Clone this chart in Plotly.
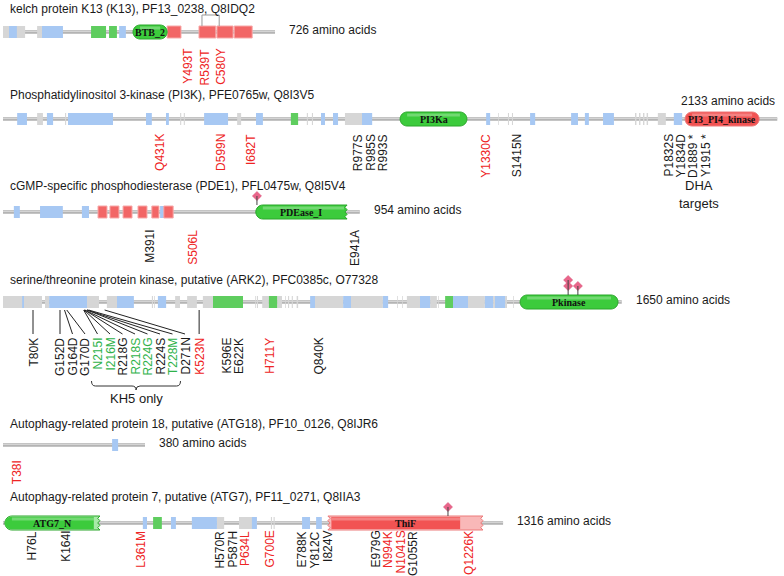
import re
import plotly.graph_objects as go

# ---------------------------------------------------------------- data
protein_titles = [
    "kelch protein K13 (K13), PF13_0238, Q8IDQ2",
    "Phosphatidylinositol 3-kinase (PI3K), PFE0765w, Q8I3V5",
    "cGMP-specific phosphodiesterase (PDE1), PFL0475w, Q8I5V4",
    "serine/threonine protein kinase, putative (ARK2), PFC0385c, O77328",
    "Autophagy-related protein 18, putative (ATG18), PF10_0126, Q8IJR6",
    "Autophagy-related protein 7, putative (ATG7), PF11_0271, Q8IIA3",
]
protein_lengths = [726, 2133, 954, 1650, 380, 1316]

# regions (start, end) in residues
k13_grey = [(0, 59), (91, 104)]
k13_blue = [(16, 37), (104, 160), (310, 328)]
k13_green = [(235, 275), (283, 304)]
k13_red = [(438, 475), (523, 568), (571, 614), (617, 665)]
k13_domains = [("BTB_2", 347, 438, "green", "round", "round", None)]
k13_links = [(531, 577)]
k13_mutations = ["Y493T", "R539T", "C580Y"]
k13_mut_colors = ["r", "r", "r"]
k13_sites = []

pi3k_grey = [(94, 110), (171, 174), (488, 491), (498, 501), (645, 656), (837, 840), (851, 854),
             (942, 992), (1364, 1366), (1391, 1394), (1402, 1405), (1741, 1745), (1752, 1756),
             (1763, 1767), (1773, 1777), (1804, 1826)]
pi3k_blue = [(39, 66), (121, 138), (179, 303), (394, 410), (449, 457), (554, 620), (697, 716),
             (876, 887), (909, 923), (989, 1017), (1331, 1342), (1452, 1466), (1565, 1584),
             (1603, 1614), (1653, 1683), (1848, 1871)]
pi3k_green = [(793, 813)]
pi3k_red = []
pi3k_domains = [("PI3Ka", 1094, 1278, "green", "round", "round", None),
                ("PI3_PI4_kinase", 1879, 2083, "red", "round", "round", None)]
pi3k_mutations = ["Q431K", "D599N", "I682T", "R977S", "R985S", "R993S", "Y1330C", "S1415N",
                  "P1832S", "Y1834D", "D1889", "Y1915"]
pi3k_mut_colors = ["r", "r", "r", "k", "k", "k", "r", "k", "k", "k", "k", "k"]
pi3k_dha_targets = ["D1889", "Y1915"]
pi3k_sites = []

pde1_grey = []
pde1_blue = [(29, 45), (99, 160), (211, 230), (420, 433)]
pde1_green = []
pde1_red = [(254, 278), (286, 310), (321, 345), (361, 385), (398, 417), (430, 455)]
pde1_domains = [("PDEase_I", 676, 920, "green", "round", "jag", None)]
pde1_mutations = ["M391I", "S506L", "E941A"]
pde1_mut_colors = ["k", "r", "k"]
pde1_sites = [(679, 1)]

ark2_grey = [(0, 104), (112, 123), (224, 256), (277, 304), (397, 400), (403, 405), (459, 472),
             (491, 517), (533, 560), (672, 674), (677, 680), (691, 693), (693, 709), (731, 744),
             (752, 754), (760, 763), (770, 773), (783, 787), (832, 907), (928, 1013), (1051, 1053),
             (1064, 1066), (1077, 1112), (1139, 1157), (1160, 1162), (1240, 1285), (1307, 1312),
             (1339, 1344), (1360, 1362)]
ark2_blue = [(51, 56), (123, 224), (304, 349), (413, 435), (819, 832), (907, 928), (1013, 1027),
             (1112, 1139), (1200, 1240), (1285, 1307), (1312, 1339)]
ark2_green = [(560, 640), (709, 731), (1179, 1200)]
ark2_red = []
ark2_domains = [("Pkinase", 1379, 1640, "green", "round", "round", None)]
ark2_mutations = ["T80K", "G152D", "G164D", "G170D", "N215I", "I216M", "R218G", "R218S", "R224G",
                  "R224S", "T228M", "D271N", "K523N", "K596E", "E622K", "H711Y", "Q840K"]
ark2_mut_colors = ["k", "k", "k", "k", "g", "g", "k", "g", "g", "k", "g", "k", "r", "k", "k", "r", "k"]
ark2_leader = [1, 1, 1, 1, 1, 1, 1, 1, 1, 1, 1, 1, 1, 0, 0, 0, 0]
ark2_sites = [(1507, 2), (1533, 1)]

atg18_grey = []
atg18_blue = [(292, 308)]
atg18_green = []
atg18_red = []
atg18_domains = []
atg18_mutations = ["T38I"]
atg18_mut_colors = ["r"]
atg18_sites = []

atg7_grey = [(563, 582), (621, 668), (705, 708), (712, 715)]
atg7_blue = [(368, 379), (442, 455), (497, 563), (655, 668), (787, 808), (824, 839)]
atg7_green = [(395, 418)]
atg7_red = []
atg7_domains = [("ATG7_N", 5, 255, "green", "round", "jag", 239),
                ("ThiF", 855, 1263, "red", "jag", "jag", 1203)]
atg7_mutations = ["H76L", "K164I", "L361M", "H570R", "P587H", "P634L", "G700E", "E788K", "Y812C",
                  "I824V", "E979G", "N994K", "N1041S", "G1055R", "Q1226K"]
atg7_mut_colors = ["k", "k", "r", "k", "k", "r", "r", "k", "k", "k", "k", "r", "r", "k", "r"]
atg7_sites = [(1171, 1)]

# ---------------------------------------------------------------- layout / style
W, H = 784, 576
X0_PX = 3
row_scale = [0.3747, 0.363, 0.374, 0.375, 0.3737, 0.38]   # px per residue for each row
row_line_y = [32, 119, 212, 302, 445, 523]
row_title_y = [9, 95, 186, 280, 424, 497]
row_label_top = [46, 132, 228, 336, 458, 529]
LABEL_GAP_PX = 12.5
FONT = "Liberation Sans"
TXT = "#1a1a1a"
MUT_COL = {"k": "#1a1a1a", "r": "#ee2424", "g": "#2fb24a"}
BLOCK_STYLE = {
    "grey": ("#d6d6d6", "rgba(0,0,0,0)"),
    "blue": ("#a7c8f3", "rgba(0,0,0,0)"),
    "green": ("#5fcd5f", "rgba(0,0,0,0)"),
    "red": ("#f26666", "#f7a9a9"),
}
DOM_STYLE = {
    "green": dict(fill="#3ccb3c", light="#a8eaa8", border="#2aa62a"),
    "red": dict(fill="#f25353", light="#f9b8b8", border="#ec7a7a"),
}

rows = [
    dict(grey=k13_grey, blue=k13_blue, green=k13_green, red=k13_red, domains=k13_domains,
         muts=k13_mutations, cols=k13_mut_colors, sites=k13_sites),
    dict(grey=pi3k_grey, blue=pi3k_blue, green=pi3k_green, red=pi3k_red, domains=pi3k_domains,
         muts=pi3k_mutations, cols=pi3k_mut_colors, sites=pi3k_sites),
    dict(grey=pde1_grey, blue=pde1_blue, green=pde1_green, red=pde1_red, domains=pde1_domains,
         muts=pde1_mutations, cols=pde1_mut_colors, sites=pde1_sites),
    dict(grey=ark2_grey, blue=ark2_blue, green=ark2_green, red=ark2_red, domains=ark2_domains,
         muts=ark2_mutations, cols=ark2_mut_colors, sites=ark2_sites),
    dict(grey=atg18_grey, blue=atg18_blue, green=atg18_green, red=atg18_red, domains=atg18_domains,
         muts=atg18_mutations, cols=atg18_mut_colors, sites=atg18_sites),
    dict(grey=atg7_grey, blue=atg7_blue, green=atg7_green, red=atg7_red, domains=atg7_domains,
         muts=atg7_mutations, cols=atg7_mut_colors, sites=atg7_sites),
]

fig = go.Figure()
shapes = []
annotations = []


def axname(i):
    return "x" if i == 0 else f"x{i + 1}"


def domain_path(x0, x1, yc, h, s, left, right):
    r = h / 2.0
    rx = r / s
    k = 0.5523
    yt, yb = yc - r, yc + r
    amp = 2.2 / s
    n = 6
    p = []
    p.append(f"M{x0 + rx:.2f},{yt:.2f}" if left == "round" else f"M{x0:.2f},{yt:.2f}")
    if right == "round":
        p.append(f"L{x1 - rx:.2f},{yt:.2f}")
        p.append(f"C{x1 - rx + k * rx:.2f},{yt:.2f} {x1:.2f},{yc - k * r:.2f} {x1:.2f},{yc:.2f}")
        p.append(f"C{x1:.2f},{yc + k * r:.2f} {x1 - rx + k * rx:.2f},{yb:.2f} {x1 - rx:.2f},{yb:.2f}")
    elif right == "jag":
        p.append(f"L{x1:.2f},{yt:.2f}")
        for j in range(1, n + 1):
            xx = x1 - amp if j % 2 else x1
            p.append(f"L{xx:.2f},{yt + h * j / n:.2f}")
    else:
        p.append(f"L{x1:.2f},{yt:.2f}")
        p.append(f"L{x1:.2f},{yb:.2f}")
    if left == "round":
        p.append(f"L{x0 + rx:.2f},{yb:.2f}")
        p.append(f"C{x0 + rx - k * rx:.2f},{yb:.2f} {x0:.2f},{yc + k * r:.2f} {x0:.2f},{yc:.2f}")
        p.append(f"C{x0:.2f},{yc - k * r:.2f} {x0 + rx - k * rx:.2f},{yt:.2f} {x0 + rx:.2f},{yt:.2f}")
    elif left == "jag":
        p.append(f"L{x0:.2f},{yb:.2f}")
        for j in range(1, n + 1):
            xx = x0 + amp if j % 2 else x0
            p.append(f"L{xx:.2f},{yb - h * j / n:.2f}")
    else:
        p.append(f"L{x0:.2f},{yb:.2f}")
    p.append("Z")
    return " ".join(p)


def residue(name):
    return int(re.search(r"\d+", name).group())


row_label_x = []
for i, row in enumerate(rows):
    s = row_scale[i]
    xa = axname(i)
    yc = row_line_y[i]
    L = protein_lengths[i]

    # protein backbone
    fig.add_trace(go.Scatter(x=[0, L], y=[yc, yc], xaxis=xa, yaxis="y", mode="lines",
                             line=dict(color="#b0b0b0", width=3.5), hoverinfo="skip",
                             showlegend=False))
    fig.add_trace(go.Scatter(x=[0, L], y=[yc - 0.4, yc - 0.4], xaxis=xa, yaxis="y", mode="lines",
                             line=dict(color="#d8d8d8", width=1), hoverinfo="skip",
                             showlegend=False))

    # small feature blocks
    for kind in ["grey", "blue", "green", "red"]:
        fill, border = BLOCK_STYLE[kind]
        for a, b in row[kind]:
            shapes.append(dict(type="rect", xref=xa, yref="y", x0=a, x1=b, y0=yc - 6, y1=yc + 6,
                               fillcolor=fill, line=dict(color=border, width=1 if kind == "red" else 0),
                               layer="above"))

    # domains
    for name, a, b, col, left, right, dark_end in row["domains"]:
        st = DOM_STYLE[col]
        hgt = 14
        if dark_end is None:
            shapes.append(dict(type="path", xref=xa, yref="y",
                               path=domain_path(a, b, yc, hgt, s, left, right),
                               fillcolor=st["fill"], line=dict(color=st["border"], width=1)))
            hx1 = b - (7 / s if right == "round" else 3 / s)
        else:
            shapes.append(dict(type="path", xref=xa, yref="y",
                               path=domain_path(a, b, yc, hgt, s, left, right),
                               fillcolor=st["light"], line=dict(color=st["border"], width=1)))
            dl = left if left == "round" else "flat"
            da = a if left == "round" else a + 3.5 / s
            shapes.append(dict(type="path", xref=xa, yref="y",
                               path=domain_path(da, dark_end, yc, hgt - 2, s, dl, "flat"),
                               fillcolor=st["fill"], line=dict(width=0)))
            hx1 = dark_end
        hx0 = a + (7 / s if left == "round" else 4 / s)
        shapes.append(dict(type="rect", xref=xa, yref="y", x0=hx0, x1=hx1, y0=yc - 5.5, y1=yc - 2.5,
                           fillcolor="rgba(255,255,255,0.28)", line=dict(width=0)))
        annotations.append(dict(x=(a + b) / 2, y=yc, xref=xa, yref="y", text=f"<b>{name}</b>",
                                showarrow=False, font=dict(family="Liberation Serif", size=10,
                                                           color="#111")))

    # lollipops (modification sites)
    hx, hy = [], []
    for pos, count in row["sites"]:
        top = yc - 7
        ytop = top - 9 - 6 * (count - 1)
        shapes.append(dict(type="line", xref=xa, yref="y", x0=pos, x1=pos, y0=top, y1=ytop,
                           line=dict(color="#444", width=1)))
        for c in range(count):
            hx.append(pos)
            hy.append(top - 9 - 6 * c)
    fig.add_trace(go.Scatter(x=hx, y=hy, xaxis=xa, yaxis="y", mode="markers",
                             marker=dict(symbol="diamond", size=7, color="#e9658a",
                                         line=dict(color="#d64a72", width=0.5)),
                             hoverinfo="skip", showlegend=False))

    # mutation labels (pushed apart so they do not overlap)
    gap = LABEL_GAP_PX / s
    xs = []
    for m in row["muts"]:
        r0 = residue(m)
        x = r0 if not xs else max(r0, xs[-1] + gap)
        xs.append(x)
    row_label_x.append(xs)
    for m, c, x in zip(row["muts"], row["cols"], xs):
        text = m + (" *" if i == 1 and m in pi3k_dha_targets else "")
        annotations.append(dict(x=x, y=row_label_top[i], xref=xa, yref="y", text=text,
                                textangle=-90, xanchor="center", yanchor="top", showarrow=False,
                                font=dict(family=FONT, size=12, color=MUT_COL[c])))

    # title
    annotations.append(dict(x=8 / W, y=row_title_y[i], xref="paper", yref="y",
                            text=protein_titles[i], xanchor="left", yanchor="middle",
                            showarrow=False, font=dict(family=FONT, size=12, color=TXT)))

    # length label
    if i == 1:
        annotations.append(dict(x=L, y=yc - 18, xref=xa, yref="y", text=f"{L} amino acids",
                                xanchor="right", yanchor="middle", showarrow=False,
                                font=dict(family=FONT, size=12, color=TXT)))
    else:
        annotations.append(dict(x=L + 12 / s, y=yc - 2, xref=xa, yref="y", text=f"{L} amino acids",
                                xanchor="left", yanchor="middle", showarrow=False,
                                font=dict(family=FONT, size=12, color=TXT)))

# K13 link bracket
for a, b in k13_links:
    yc = row_line_y[0]
    shapes.append(dict(type="path", xref="x", yref="y",
                       path=f"M{a},{yc - 6} L{a},{yc - 17} L{b},{yc - 17} L{b},{yc - 6}",
                       line=dict(color="#999", width=1)))

# ARK2 leader lines
i = 3
for m, x, lead in zip(ark2_mutations, row_label_x[i], ark2_leader):
    if lead:
        shapes.append(dict(type="line", xref="x4", yref="y", x0=residue(m), y0=row_line_y[i] + 8,
                           x1=x, y1=row_label_top[i] - 2, line=dict(color="#222", width=1)))

# KH5 brace under the green (KH5-only) ARK2 labels
s3 = row_scale[3]
gx = [x for x, c in zip(row_label_x[3], ark2_mut_colors) if c == "g"]
xl, xr = gx[0] - 6 / s3, gx[-1] + 8 / s3
xm = (xl + xr) / 2
d = 4 / s3
yb0 = row_label_top[3] + 45
shapes.append(dict(type="path", xref="x4", yref="y",
                   path=(f"M{xl:.1f},{yb0} Q{xl:.1f},{yb0 + 5} {xl + d:.1f},{yb0 + 5} "
                         f"L{xm - d:.1f},{yb0 + 5} Q{xm:.1f},{yb0 + 5} {xm:.1f},{yb0 + 9} "
                         f"Q{xm:.1f},{yb0 + 5} {xm + d:.1f},{yb0 + 5} L{xr - d:.1f},{yb0 + 5} "
                         f"Q{xr:.1f},{yb0 + 5} {xr:.1f},{yb0}"),
                   line=dict(color="#333", width=1)))
annotations.append(dict(x=xm, y=yb0 + 17, xref="x4", yref="y", text="KH5 only", showarrow=False,
                        font=dict(family=FONT, size=13, color=TXT)))

# DHA targets note under the PI3K marked residues
tx = [x for m, x in zip(pi3k_mutations, row_label_x[1]) if m in pi3k_dha_targets]
dx = sum(tx) / len(tx)
annotations.append(dict(x=dx, y=185, xref="x2", yref="y", text="DHA", showarrow=False,
                        font=dict(family=FONT, size=13, color=TXT)))
annotations.append(dict(x=dx, y=203, xref="x2", yref="y", text="targets", showarrow=False,
                        font=dict(family=FONT, size=13, color=TXT)))

layout = dict(width=W, height=H, margin=dict(l=0, r=0, t=0, b=0), paper_bgcolor="white",
              plot_bgcolor="white", showlegend=False, shapes=shapes, annotations=annotations,
              yaxis=dict(range=[H, 0], visible=False, fixedrange=True, domain=[0, 1]))
for i in range(6):
    s = row_scale[i]
    key = "xaxis" if i == 0 else f"xaxis{i + 1}"
    ax = dict(range=[-X0_PX / s, (W - X0_PX) / s], visible=False, fixedrange=True,
              domain=[0, 1], anchor="y")
    if i > 0:
        ax["overlaying"] = "x"
    layout[key] = ax
fig.update_layout(**layout)
fig.write_html("out.html", config={"displayModeBar": False},
               post_script="document.body.style.margin='0';document.body.style.overflow='hidden';")
